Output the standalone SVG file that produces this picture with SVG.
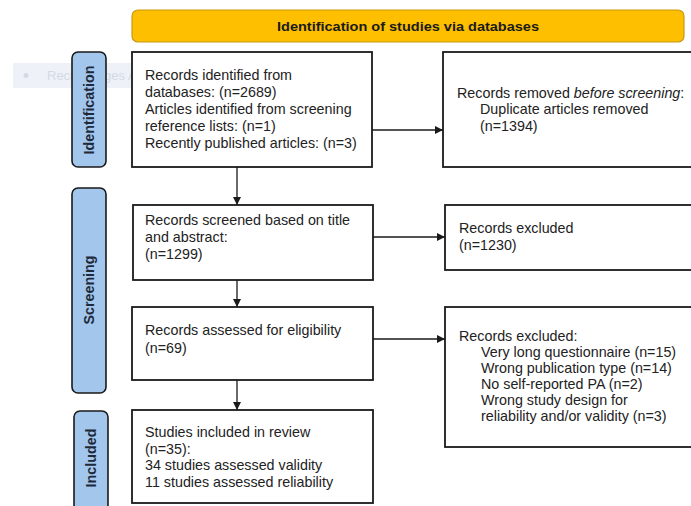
<svg xmlns="http://www.w3.org/2000/svg" width="691" height="506" viewBox="0 0 691 506">
<defs>
<style>
.box{fill:#fff;stroke:#1a1a1a;stroke-width:1.8}
.lab{fill:#a3c6ec;stroke:#1a1a1a;stroke-width:1.6}
.t{font-family:"Liberation Sans",Arial,sans-serif;font-size:14.3px;fill:#222}
.lt{font-family:"Liberation Sans",Arial,sans-serif;font-size:14.3px;font-weight:bold;fill:#1e2a3a}
.conn{stroke:#1a1a1a;stroke-width:1.3;fill:none}
</style>
<marker id="ah" viewBox="0 0 10 10" refX="10" refY="5" markerWidth="8" markerHeight="8" markerUnits="userSpaceOnUse" orient="auto">
<path d="M0,0 L10,5 L0,10 z" fill="#1a1a1a"/>
</marker>
</defs>
<rect width="691" height="506" fill="#fff"/>
<g id="watermark">
<rect x="13" y="63" width="130" height="25" fill="#eef2f8"/>
<circle cx="26" cy="75.5" r="2.5" fill="#d3dae4"/>
<text x="47" y="80" style="font-family:'Liberation Sans',Arial,sans-serif;font-size:13px;fill:#d3dae4">Rechteckiges Au</text>
</g>
<g id="header">
<rect x="132" y="10" width="552" height="32" rx="6" fill="#fdbf00" stroke="#c89a10" stroke-width="1.2"/>
<text x="408" y="31" text-anchor="middle" style="font-family:'Liberation Sans',Arial,sans-serif;font-size:13px;font-weight:bold;fill:#1a1a1a" textLength="262" lengthAdjust="spacingAndGlyphs">Identification of studies via databases</text>
</g>
<g id="lab-identification">
<rect class="lab" x="72" y="52" width="34" height="115" rx="6"/>
<text class="lt" transform="translate(94,110) rotate(-90)" text-anchor="middle">Identification</text>
</g>
<g id="lab-screening">
<rect class="lab" x="72" y="188" width="34" height="205" rx="6"/>
<text class="lt" transform="translate(94,290) rotate(-90)" text-anchor="middle">Screening</text>
</g>
<g id="lab-included">
<rect class="lab" x="74" y="411" width="34" height="100" rx="6"/>
<text class="lt" transform="translate(96,458) rotate(-90)" text-anchor="middle">Included</text>
</g>
<g id="box-identified">
<rect class="box" x="132" y="52" width="240" height="115"/>
<text class="t" x="145" y="80">Records identified from</text>
<text class="t" x="145" y="96.5">databases: (n=2689)</text>
<text class="t" x="145" y="113.5">Articles identified from screening</text>
<text class="t" x="145" y="130.5">reference lists: (n=1)</text>
<text class="t" x="145" y="148">Recently published articles: (n=3)</text>
</g>
<g id="box-removed">
<rect class="box" x="443" y="52" width="260" height="115"/>
<text class="t" x="457" y="98">Records removed <tspan font-style="italic">before screening</tspan>:</text>
<text class="t" x="480" y="114">Duplicate articles removed</text>
<text class="t" x="480" y="131">(n=1394)</text>
</g>
<g id="box-screened">
<rect class="box" x="133" y="205" width="240" height="75"/>
<text class="t" x="145" y="225">Records screened based on title</text>
<text class="t" x="145" y="242">and abstract:</text>
<text class="t" x="145" y="259">(n=1299)</text>
</g>
<g id="box-excluded1">
<rect class="box" x="445" y="205" width="260" height="65"/>
<text class="t" x="459" y="233">Records excluded</text>
<text class="t" x="459" y="250">(n=1230)</text>
</g>
<g id="box-eligibility">
<rect class="box" x="132" y="307" width="241" height="73"/>
<text class="t" x="145" y="335">Records assessed for eligibility</text>
<text class="t" x="145" y="353">(n=69)</text>
</g>
<g id="box-excluded2">
<rect class="box" x="445" y="307" width="260" height="140"/>
<text class="t" x="459" y="341">Records excluded:</text>
<text class="t" x="481" y="357">Very long questionnaire (n=15)</text>
<text class="t" x="481" y="373">Wrong publication type (n=14)</text>
<text class="t" x="481" y="389">No self-reported PA (n=2)</text>
<text class="t" x="481" y="405">Wrong study design for</text>
<text class="t" x="481" y="421">reliability and/or validity (n=3)</text>
</g>
<g id="box-included">
<rect class="box" x="132" y="410" width="241" height="93"/>
<text class="t" x="145" y="437">Studies included in review</text>
<text class="t" x="145" y="454">(n=35):</text>
<text class="t" x="145" y="470">34 studies assessed validity</text>
<text class="t" x="145" y="487">11 studies assessed reliability</text>
</g>
<g id="connectors">
<line class="conn" x1="237" y1="167" x2="237" y2="205" marker-end="url(#ah)"/>
<line class="conn" x1="237" y1="280" x2="237" y2="307" marker-end="url(#ah)"/>
<line class="conn" x1="237" y1="380" x2="237" y2="410" marker-end="url(#ah)"/>
<line class="conn" x1="372" y1="130" x2="443" y2="130" marker-end="url(#ah)"/>
<line class="conn" x1="373" y1="237" x2="445" y2="237" marker-end="url(#ah)"/>
<line class="conn" x1="373" y1="339" x2="445" y2="339" marker-end="url(#ah)"/>
</g>
</svg>
